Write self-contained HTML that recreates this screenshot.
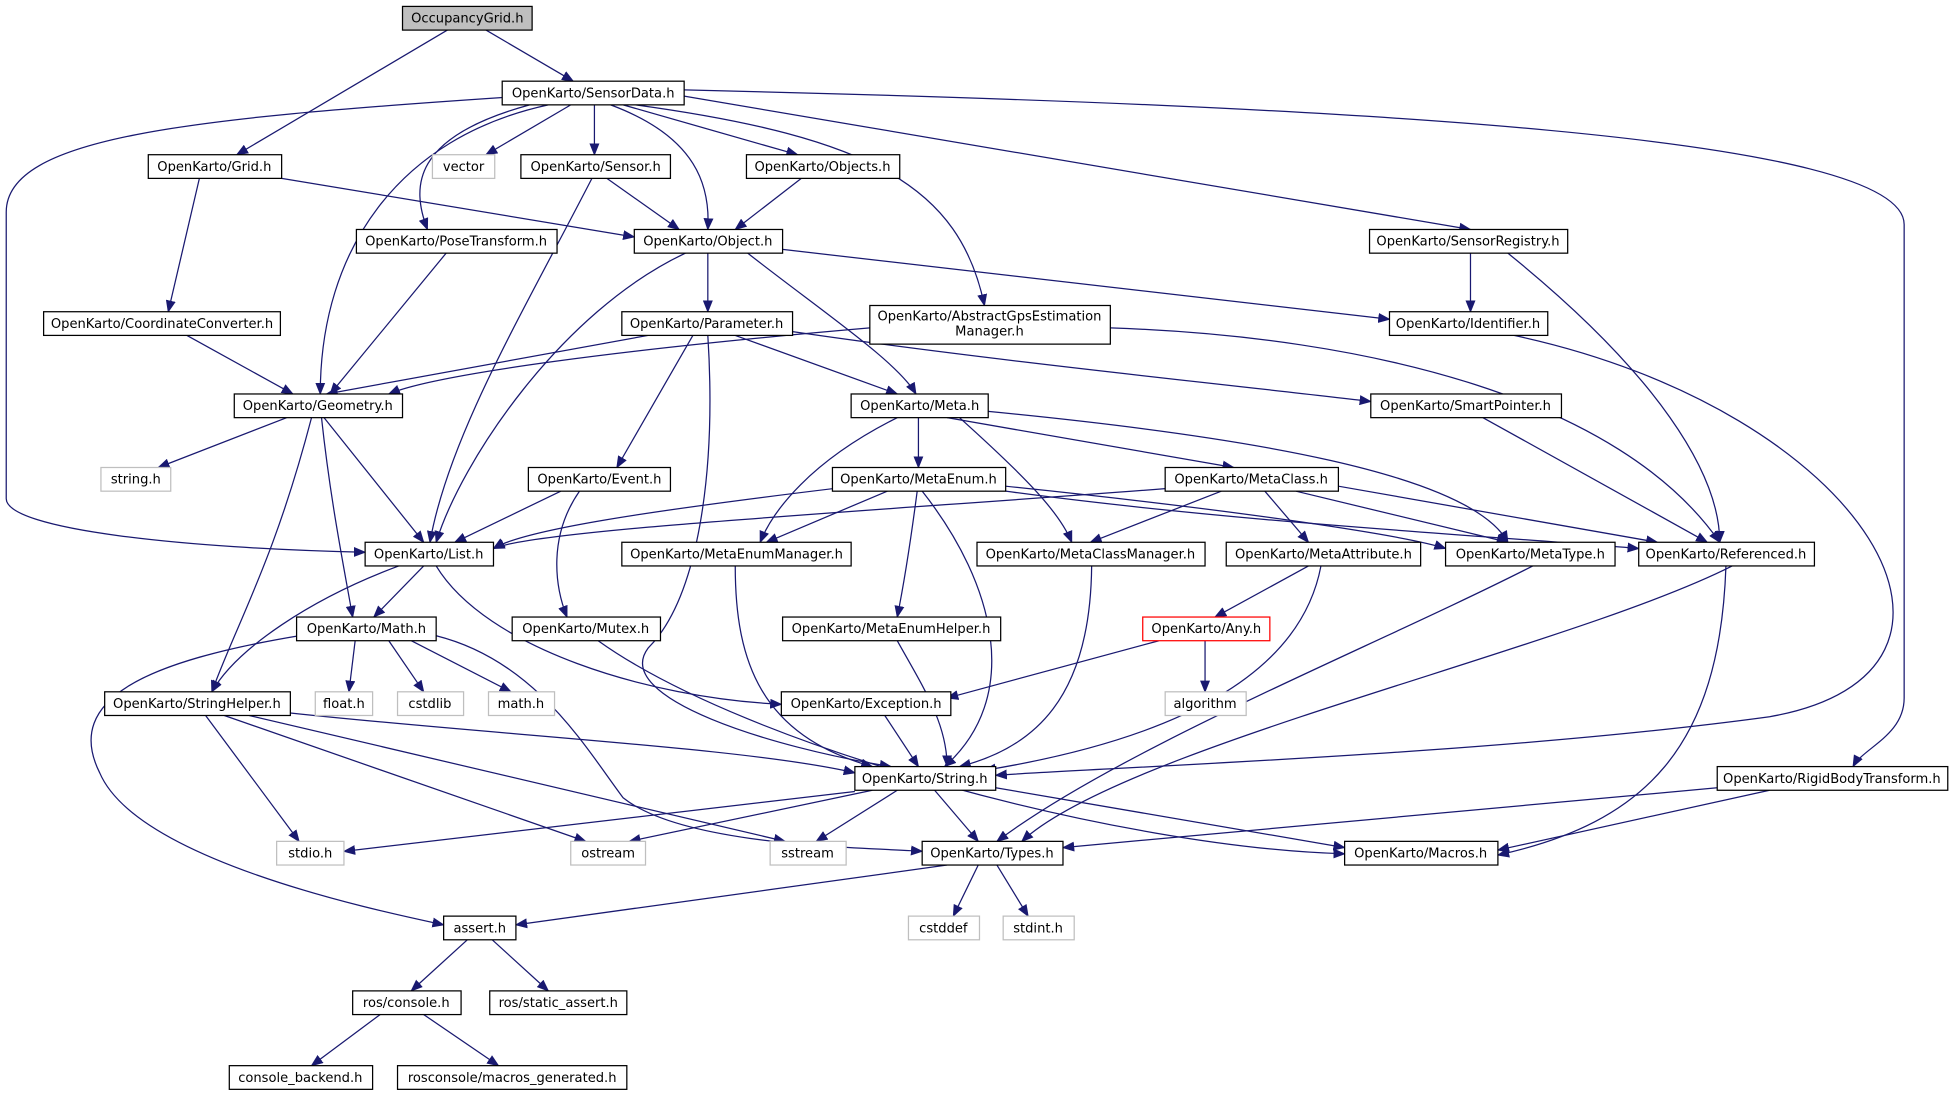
<!DOCTYPE html>
<html><head><meta charset="utf-8"><style>
html,body{margin:0;padding:0;background:#fff}
svg{display:block}
text{font-family:"DejaVu Sans","Liberation Sans",sans-serif;font-size:10.5px;fill:#000;text-anchor:middle}
.n{fill:#fff;stroke:#000;stroke-width:1}
.g{fill:#fff;stroke:#bfbfbf;stroke-width:1}
.e{fill:none;stroke:#191970;stroke-width:1;marker-end:url(#a)}
</style></head><body>
<svg width="1954" height="1097" viewBox="0 0 1568 880" xmlns="http://www.w3.org/2000/svg">
<defs><marker id="a" markerWidth="10" markerHeight="8" refX="9" refY="4" orient="auto" markerUnits="userSpaceOnUse"><path d="M0,0 L10,4 L0,8 z" fill="#191970"/></marker></defs>
<g>
<path class="e" d="M359,24 L190,124"/>
<path class="e" d="M390,24 L460,65"/>
<path class="e" d="M405,78 C150,95 5,110 5,170 L5,400 C5,425 150,440 293,443"/>
<path class="e" d="M440,84 C320,110 257,200 257,316"/>
<path class="e" d="M425,84 C330,110 330,150 343,184"/>
<path class="e" d="M458,84 L390,124"/>
<path class="e" d="M477,84 L477,124"/>
<path class="e" d="M490,84 C560,110 570,150 568,184"/>
<path class="e" d="M500,84 L640,124"/>
<path class="e" d="M510,84 C700,110 770,150 790,245"/>
<path class="e" d="M549,77 L1180,184"/>
<path class="e" d="M549,72 C1100,85 1528,110 1528,180 L1528,560 C1528,590 1495,600 1487,615"/>
<path class="e" d="M226,143 L509,190"/>
<path class="e" d="M160,143 L135,250"/>
<path class="e" d="M487,143 L545,184"/>
<path class="e" d="M475,143 C420,250 360,350 345,435"/>
<path class="e" d="M643,143 L590,184"/>
<path class="e" d="M628,200 L1115,256"/>
<path class="e" d="M568,203 L568,250"/>
<path class="e" d="M600,203 C660,250 720,290 735,316"/>
<path class="e" d="M550,203 C450,250 370,370 350,435"/>
<path class="e" d="M358,203 L265,316"/>
<path class="e" d="M1180,203 L1180,250"/>
<path class="e" d="M1210,203 C1330,300 1380,380 1380,435"/>
<path class="e" d="M150,269 L235,316"/>
<path class="e" d="M698,263 C500,280 350,300 312,316"/>
<path class="e" d="M891,263 C1100,270 1300,320 1380,435"/>
<path class="e" d="M1215,269 C1500,330 1620,540 1420,575 C1200,605 900,615 799,622"/>
<path class="e" d="M520,269 L262,316"/>
<path class="e" d="M590,269 L720,316"/>
<path class="e" d="M636,266 C800,290 1000,310 1100,322"/>
<path class="e" d="M556,269 L495,375"/>
<path class="e" d="M568,269 C575,380 560,480 520,520 C490,560 620,600 715,615"/>
<path class="e" d="M737,335 L737,375"/>
<path class="e" d="M760,335 L990,375"/>
<path class="e" d="M720,335 C650,370 620,410 610,435"/>
<path class="e" d="M770,335 C820,380 850,410 860,435"/>
<path class="e" d="M793,330 C1000,350 1180,380 1210,435"/>
<path class="e" d="M1190,335 L1370,435"/>
<path class="e" d="M230,335 L127,375"/>
<path class="e" d="M260,335 L340,435"/>
<path class="e" d="M258,335 C265,400 275,450 283,495"/>
<path class="e" d="M250,335 C220,450 190,500 170,555"/>
<path class="e" d="M450,394 L365,435"/>
<path class="e" d="M465,394 C440,430 445,470 455,495"/>
<path class="e" d="M668,392 C520,410 420,425 396,440"/>
<path class="e" d="M712,394 L615,435"/>
<path class="e" d="M736,394 C730,440 725,470 720,495"/>
<path class="e" d="M740,394 C800,470 820,560 758,615"/>
<path class="e" d="M807,390 C1000,410 1130,430 1160,440"/>
<path class="e" d="M807,394 C1000,420 1200,430 1315,440"/>
<path class="e" d="M935,392 C700,410 430,425 396,440"/>
<path class="e" d="M980,394 L875,435"/>
<path class="e" d="M1015,394 L1050,435"/>
<path class="e" d="M1040,394 L1210,435"/>
<path class="e" d="M1074,390 L1330,435"/>
<path class="e" d="M340,454 L300,495"/>
<path class="e" d="M320,454 C250,480 190,520 170,555"/>
<path class="e" d="M350,454 C390,520 520,560 627,565"/>
<path class="e" d="M590,454 C590,530 610,590 700,615"/>
<path class="e" d="M876,454 C875,560 830,600 770,615"/>
<path class="e" d="M1050,454 L975,495"/>
<path class="e" d="M1060,454 C1040,560 900,600 790,618"/>
<path class="e" d="M1230,454 C1100,520 900,600 800,675"/>
<path class="e" d="M1390,454 C1260,520 900,600 820,675"/>
<path class="e" d="M1385,454 C1380,600 1320,660 1202,686"/>
<path class="e" d="M240,510 C120,530 50,560 80,620 C110,690 300,730 356,742"/>
<path class="e" d="M285,514 L280,555"/>
<path class="e" d="M312,514 L340,555"/>
<path class="e" d="M330,514 L410,555"/>
<path class="e" d="M350,510 C430,530 470,600 500,640 C550,680 700,680 740,683"/>
<path class="e" d="M480,514 C600,600 900,680 1079,685"/>
<path class="e" d="M720,514 C740,550 760,580 760,615"/>
<path class="e" d="M930,514 L760,560"/>
<path class="e" d="M967,514 L967,555"/>
<path class="e" d="M710,574 L737,615"/>
<path class="e" d="M233,572 C400,590 600,600 686,620"/>
<path class="e" d="M165,574 L240,675"/>
<path class="e" d="M180,574 L470,675"/>
<path class="e" d="M200,574 L630,675"/>
<path class="e" d="M686,635 L276,683"/>
<path class="e" d="M700,634 L505,675"/>
<path class="e" d="M720,634 L655,675"/>
<path class="e" d="M750,634 L785,675"/>
<path class="e" d="M799,632 L1079,680"/>
<path class="e" d="M1378,632 L853,680"/>
<path class="e" d="M1420,634 L1202,682"/>
<path class="e" d="M760,694 L414,742"/>
<path class="e" d="M785,694 L765,735"/>
<path class="e" d="M800,694 L825,735"/>
<path class="e" d="M375,754 L330,795"/>
<path class="e" d="M395,754 L440,795"/>
<path class="e" d="M305,814 L250,855"/>
<path class="e" d="M340,814 L400,855"/>
</g>
<g>
<rect x="323" y="5" width="104" height="19" fill="#bfbfbf" stroke="#000"/><text x="375" y="18">OccupancyGrid.h</text>
<rect class="n" x="403" y="65" width="146" height="19"/><text x="476" y="78">OpenKarto/SensorData.h</text>
<rect class="n" x="119" y="124" width="107" height="19"/><text x="172" y="137">OpenKarto/Grid.h</text>
<rect class="g" x="347" y="124" width="50" height="19"/><text x="372" y="137">vector</text>
<rect class="n" x="418" y="124" width="120" height="19"/><text x="478" y="137">OpenKarto/Sensor.h</text>
<rect class="n" x="599" y="124" width="123" height="19"/><text x="660" y="137">OpenKarto/Objects.h</text>
<rect class="n" x="509" y="184" width="119" height="19"/><text x="568" y="197">OpenKarto/Object.h</text>
<rect class="n" x="286" y="184" width="161" height="19"/><text x="366" y="197">OpenKarto/PoseTransform.h</text>
<rect class="n" x="1099" y="184" width="159" height="19"/><text x="1178" y="197">OpenKarto/SensorRegistry.h</text>
<rect class="n" x="35" y="250" width="190" height="19"/><text x="130" y="263">OpenKarto/CoordinateConverter.h</text>
<rect class="n" x="698" y="245" width="193" height="31"/><text x="794" y="257">OpenKarto/AbstractGpsEstimation</text><text x="794" y="269">Manager.h</text>
<rect class="n" x="499" y="250" width="137" height="19"/><text x="567" y="263">OpenKarto/Parameter.h</text>
<rect class="n" x="1115" y="250" width="127" height="19"/><text x="1178" y="263">OpenKarto/Identifier.h</text>
<rect class="n" x="188" y="316" width="135" height="19"/><text x="255" y="329">OpenKarto/Geometry.h</text>
<rect class="n" x="683" y="316" width="110" height="19"/><text x="738" y="329">OpenKarto/Meta.h</text>
<rect class="n" x="1100" y="316" width="153" height="19"/><text x="1176" y="329">OpenKarto/SmartPointer.h</text>
<rect class="g" x="81" y="375" width="56" height="19"/><text x="109" y="388">string.h</text>
<rect class="n" x="424" y="375" width="114" height="19"/><text x="481" y="388">OpenKarto/Event.h</text>
<rect class="n" x="668" y="375" width="139" height="19"/><text x="737" y="388">OpenKarto/MetaEnum.h</text>
<rect class="n" x="935" y="375" width="139" height="19"/><text x="1004" y="388">OpenKarto/MetaClass.h</text>
<rect class="n" x="293" y="435" width="103" height="19"/><text x="344" y="448">OpenKarto/List.h</text>
<rect class="n" x="499" y="435" width="184" height="19"/><text x="591" y="448">OpenKarto/MetaEnumManager.h</text>
<rect class="n" x="784" y="435" width="183" height="19"/><text x="875" y="448">OpenKarto/MetaClassManager.h</text>
<rect class="n" x="984" y="435" width="156" height="19"/><text x="1062" y="448">OpenKarto/MetaAttribute.h</text>
<rect class="n" x="1160" y="435" width="136" height="19"/><text x="1228" y="448">OpenKarto/MetaType.h</text>
<rect class="n" x="1315" y="435" width="141" height="19"/><text x="1385" y="448">OpenKarto/Referenced.h</text>
<rect class="n" x="238" y="495" width="112" height="19"/><text x="294" y="508">OpenKarto/Math.h</text>
<rect class="n" x="411" y="495" width="119" height="19"/><text x="470" y="508">OpenKarto/Mutex.h</text>
<rect class="n" x="628" y="495" width="175" height="19"/><text x="715" y="508">OpenKarto/MetaEnumHelper.h</text>
<rect x="917" y="495" width="102" height="19" fill="#fff" stroke="#ff0000"/><text x="968" y="508">OpenKarto/Any.h</text>
<rect class="n" x="84" y="555" width="149" height="19"/><text x="158" y="568">OpenKarto/StringHelper.h</text>
<rect class="g" x="253" y="555" width="46" height="19"/><text x="276" y="568">float.h</text>
<rect class="g" x="319" y="555" width="53" height="19"/><text x="345" y="568">cstdlib</text>
<rect class="g" x="392" y="555" width="53" height="19"/><text x="418" y="568">math.h</text>
<rect class="n" x="627" y="555" width="136" height="19"/><text x="695" y="568">OpenKarto/Exception.h</text>
<rect class="g" x="935" y="555" width="65" height="19"/><text x="967" y="568">algorithm</text>
<rect class="n" x="686" y="615" width="113" height="19"/><text x="742" y="628">OpenKarto/String.h</text>
<rect class="n" x="1378" y="615" width="185" height="19"/><text x="1470" y="628">OpenKarto/RigidBodyTransform.h</text>
<rect class="g" x="222" y="675" width="54" height="19"/><text x="249" y="688">stdio.h</text>
<rect class="g" x="458" y="675" width="60" height="19"/><text x="488" y="688">ostream</text>
<rect class="g" x="618" y="675" width="61" height="19"/><text x="648" y="688">sstream</text>
<rect class="n" x="740" y="675" width="113" height="19"/><text x="796" y="688">OpenKarto/Types.h</text>
<rect class="n" x="1079" y="675" width="123" height="19"/><text x="1140" y="688">OpenKarto/Macros.h</text>
<rect class="n" x="356" y="735" width="58" height="19"/><text x="385" y="748">assert.h</text>
<rect class="g" x="729" y="735" width="57" height="19"/><text x="757" y="748">cstddef</text>
<rect class="g" x="805" y="735" width="57" height="19"/><text x="833" y="748">stdint.h</text>
<rect class="n" x="283" y="795" width="87" height="19"/><text x="326" y="808">ros/console.h</text>
<rect class="n" x="393" y="795" width="110" height="19"/><text x="448" y="808">ros/static_assert.h</text>
<rect class="n" x="184" y="855" width="115" height="19"/><text x="241" y="868">console_backend.h</text>
<rect class="n" x="319" y="855" width="184" height="19"/><text x="411" y="868">rosconsole/macros_generated.h</text>
</g>
</svg>
</body></html>
